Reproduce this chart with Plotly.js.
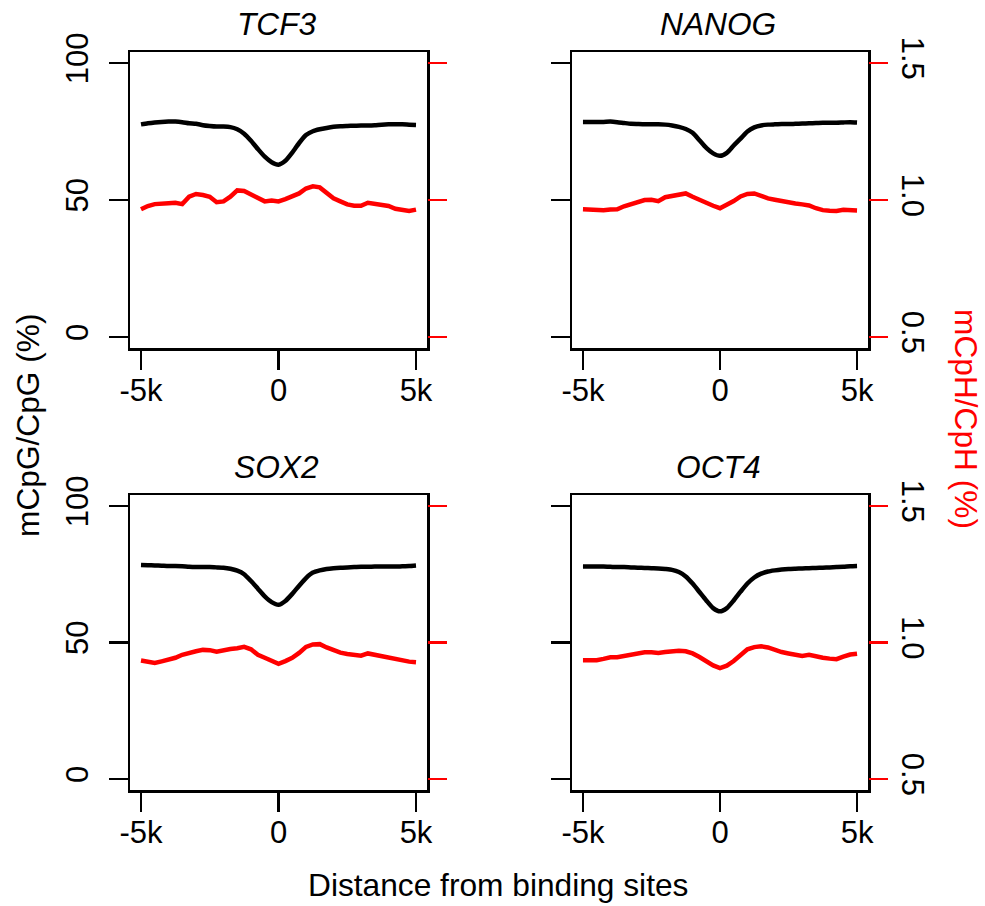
<!DOCTYPE html>
<html>
<head>
<meta charset="utf-8">
<script src="https://cdn.plot.ly/plotly-3.0.1.min.js"></script>
<style>html,body{margin:0;padding:0;background:#fff;}#chart{width:985px;height:906px;}</style>
</head>
<body>
<div id="chart"></div>
<script>
// Distance from binding site (bp)
const positions = [-5000,-4750,-4500,-4250,-4000,-3750,-3500,-3250,-3000,-2750,-2500,-2250,-2000,-1750,-1500,-1250,-1000,-750,-500,-250,0,250,500,750,1000,1250,1500,1750,2000,2250,2500,2750,3000,3250,3500,3750,4000,4250,4500,4750,5000];

const panelNames = ["TCF3", "NANOG", "SOX2", "OCT4"];

// mCpG/CpG (%) — left axis
const cpgTCF3  = [77.6,78.0,78.3,78.5,78.6,78.6,78.4,78.0,77.8,77.3,77.0,76.8,76.8,76.6,75.8,74.2,71.6,68.6,65.8,63.8,62.9,64.3,67.3,70.8,73.7,75.1,75.8,76.3,76.7,76.9,77.0,77.1,77.2,77.2,77.3,77.5,77.6,77.6,77.6,77.5,77.4];
const cpgNANOG = [78.5,78.5,78.5,78.5,78.6,78.4,78.1,77.8,77.7,77.6,77.6,77.6,77.5,77.2,76.7,75.9,74.5,71.8,69.0,67.0,66.1,67.2,69.9,72.4,75.0,76.5,77.2,77.5,77.6,77.7,77.7,77.8,77.9,78.0,78.1,78.2,78.2,78.2,78.3,78.4,78.3];
const cpgSOX2  = [78.4,78.3,78.2,78.1,78.0,78.0,77.9,77.7,77.6,77.6,77.6,77.5,77.4,77.0,76.3,75.0,72.5,69.7,66.9,64.8,63.8,65.2,67.8,70.8,73.6,75.6,76.4,76.9,77.2,77.4,77.5,77.6,77.7,77.7,77.8,77.8,77.8,77.8,77.9,78.0,78.2];
const cpgOCT4  = [77.8,77.8,77.8,77.8,77.7,77.6,77.6,77.5,77.4,77.3,77.2,77.1,76.9,76.6,75.8,74.2,71.6,68.5,65.4,62.6,61.4,62.6,65.4,68.6,71.6,73.8,75.2,76.0,76.4,76.7,76.9,77.0,77.1,77.2,77.3,77.4,77.5,77.6,77.7,77.9,78.0];

// mCpH/CpH (%) — right axis
const cphTCF3  = [0.966,0.978,0.985,0.985,0.988,0.990,0.985,1.012,1.022,1.018,1.012,0.992,0.995,1.012,1.035,1.033,1.020,1.008,0.995,0.998,0.995,1.003,1.012,1.024,1.042,1.050,1.046,1.025,1.006,0.995,0.984,0.979,0.979,0.990,0.986,0.985,0.978,0.968,0.962,0.960,0.965];
const cphNANOG = [0.966,0.965,0.962,0.963,0.965,0.966,0.977,0.986,0.995,1.000,1.001,0.996,1.010,1.014,1.019,1.024,1.012,1.000,0.990,0.979,0.970,0.982,0.996,1.013,1.022,1.024,1.014,1.006,1.001,0.995,0.992,0.987,0.984,0.980,0.970,0.963,0.961,0.960,0.964,0.963,0.962];
const cphSOX2  = [0.934,0.930,0.925,0.931,0.936,0.944,0.955,0.963,0.968,0.973,0.972,0.966,0.972,0.976,0.979,0.984,0.975,0.955,0.944,0.932,0.922,0.932,0.944,0.962,0.984,0.993,0.994,0.982,0.972,0.963,0.958,0.955,0.952,0.960,0.955,0.950,0.946,0.938,0.933,0.930,0.928];
const cphOCT4  = [0.935,0.935,0.935,0.940,0.946,0.946,0.950,0.958,0.961,0.964,0.964,0.962,0.965,0.968,0.970,0.968,0.960,0.947,0.930,0.916,0.906,0.915,0.932,0.955,0.975,0.983,0.986,0.982,0.972,0.965,0.960,0.954,0.951,0.955,0.948,0.944,0.941,0.939,0.948,0.956,0.959];

const xTickVals = [-5000, 0, 5000];
const xTickText = ["-5k", "0", "5k"];
const leftTickVals = [0, 50, 100];
const leftTickText = ["0", "50", "100"];
const rightTickVals = [0.5, 1.0, 1.5];
const rightTickText = ["0.5", "1.0", "1.5"];

const cpgSeries = [cpgTCF3, cpgNANOG, cpgSOX2, cpgOCT4];
const cphSeries = [cphTCF3, cphNANOG, cphSOX2, cphOCT4];

const W = 985, H = 906;
const FONT = "Liberation Sans, Arial, Helvetica, sans-serif";
const FS = 31;
const FA = 31.7;
// panel boxes in pixels [left, right, top, bottom]
const boxes = [
  [130, 427, 52, 348],
  [572, 868, 52, 348],
  [130, 427, 495, 790],
  [572, 868, 495, 790]
];

const data = [];
const layout = {
  width: W, height: H,
  margin: {l: 0, r: 0, t: 0, b: 0},
  paper_bgcolor: "#fff", plot_bgcolor: "#fff",
  showlegend: false,
  font: {family: FONT, size: FS, color: "#000"},
  annotations: []
};

for (let i = 0; i < 4; i++) {
  const xs = i === 0 ? "" : String(i + 1);
  const yl = 2 * i + 1, yr = 2 * i + 2;
  const ylName = yl === 1 ? "" : String(yl);
  const yrName = String(yr);
  const b = boxes[i];
  const isLeft = (i % 2 === 0);

  data.push({
    x: positions, y: cpgSeries[i], type: "scatter", mode: "lines",
    xaxis: "x" + xs, yaxis: "y" + ylName,
    line: {color: "#000", width: 4.5, shape: "spline", smoothing: 0.6},
    hoverinfo: "skip"
  });
  data.push({
    x: positions, y: cphSeries[i], type: "scatter", mode: "lines",
    xaxis: "x" + xs, yaxis: "y" + yrName,
    line: {color: "#ff0000", width: 4.5},
    hoverinfo: "skip"
  });

  layout["xaxis" + xs] = {
    domain: [b[0] / W, b[1] / W],
    anchor: "y" + ylName,
    range: [-5400, 5400],
    showgrid: false, zeroline: false,
    showline: true, mirror: true, linecolor: "#000", linewidth: 2.5,
    ticks: "outside", ticklen: 19, tickwidth: 2.5, tickcolor: "#000",
    tickvals: xTickVals, ticktext: xTickText,
    tickfont: {family: FONT, size: FS, color: "#000"},
    ticklabelstandoff: -6,
    fixedrange: true
  };
  layout["yaxis" + ylName] = {
    domain: [1 - b[3] / H, 1 - b[2] / H],
    anchor: "x" + xs,
    range: [-4, 104],
    showgrid: false, zeroline: false,
    showline: true, mirror: true, linecolor: "#000", linewidth: 2.5,
    ticks: "outside", ticklen: 19, tickwidth: 2.5, tickcolor: "#000",
    tickvals: leftTickVals, ticktext: leftTickText,
    showticklabels: isLeft,
    tickangle: -90,
    tickfont: {family: FONT, size: FS, color: "#000"},
    ticklabelstandoff: 8,
    fixedrange: true
  };
  layout["yaxis" + yrName] = {
    overlaying: "y" + ylName,
    anchor: "x" + xs,
    side: "right",
    range: [0.46, 1.54],
    showgrid: false, zeroline: false, showline: false,
    ticks: "outside", ticklen: 19, tickwidth: 2.5, tickcolor: "#ff0000",
    tickvals: rightTickVals, ticktext: rightTickText,
    showticklabels: !isLeft,
    tickangle: 90,
    tickfont: {family: FONT, size: FS, color: "#000"},
    ticklabelstandoff: 2,
    fixedrange: true
  };

  layout.annotations.push({
    text: "<i>" + panelNames[i] + "</i>",
    xref: "paper", yref: "paper",
    x: ((b[0] + b[1]) / 2 - 2) / W, y: 1 - (b[2] - 28) / H,
    xanchor: "center", yanchor: "middle", showarrow: false,
    font: {family: FONT, size: FA, color: "#000"}
  });
}

layout.annotations.push({
  text: "mCpG/CpG (%)", xref: "paper", yref: "paper",
  x: 28 / W, y: 1 - 425 / H, xanchor: "center", yanchor: "middle",
  textangle: -90, showarrow: false,
  font: {family: FONT, size: FA, color: "#000"}
});
layout.annotations.push({
  text: "mCpH/CpH (%)", xref: "paper", yref: "paper",
  x: 966 / W, y: 1 - 419 / H, xanchor: "center", yanchor: "middle",
  textangle: 90, showarrow: false,
  font: {family: FONT, size: FA, color: "#ff0000"}
});
layout.annotations.push({
  text: "Distance from binding sites", xref: "paper", yref: "paper",
  x: 498 / W, y: 1 - 885 / H, xanchor: "center", yanchor: "middle",
  showarrow: false,
  font: {family: FONT, size: FA, color: "#000"}
});

Plotly.newPlot("chart", data, layout, {displayModeBar: false, staticPlot: true});
</script>
</body>
</html>
